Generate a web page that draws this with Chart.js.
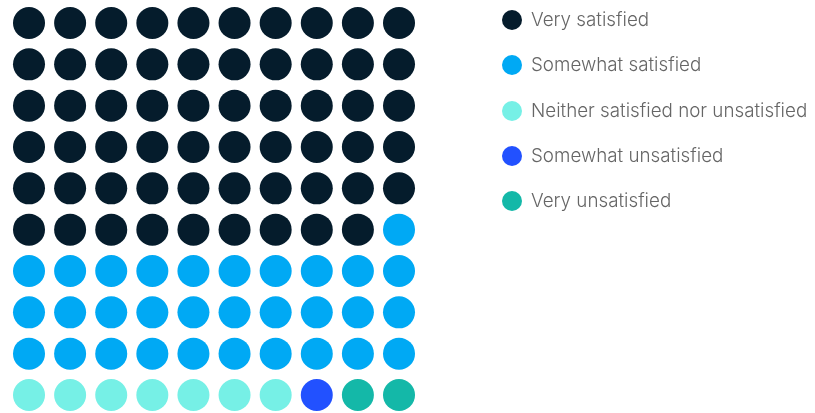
<!DOCTYPE html>
<html>
<head>
<meta charset="utf-8">
<script src="https://cdn.jsdelivr.net/npm/chart.js@4"></script>
<style>
  html, body { margin: 0; padding: 0; background: #fff; }
  #wrap { position: relative; width: 815px; height: 413px; }
  #legend { position: absolute; left: 502px; top: 0; margin: 0; padding: 0; list-style: none;
    font-family: Inter, Roboto, sans-serif; font-size: 18.8px; font-weight: 300; color: #666; }
  #legend li { position: absolute; left: 0; white-space: nowrap; height: 20px; line-height: 20px; }
  #legend span { display: inline-block; width: 20px; height: 20px; border-radius: 50%; vertical-align: top; margin-right: 9px; }
</style>
</head>
<body>
<div id="wrap">
  <canvas id="myChart" width="815" height="413"></canvas>
  <ul id="legend"></ul>
</div>
<script>
const categories = ['Very satisfied', 'Somewhat satisfied', 'Neither satisfied nor unsatisfied', 'Somewhat unsatisfied', 'Very unsatisfied'];
const counts = [59, 31, 7, 1, 2];
const colors = ['#051c2c', '#00a9f4', '#76f0e6', '#2251ff', '#14b8a8'];
const cols = 10;

// fill the 10x10 grid row by row
let cell = 0;
const datasets = categories.map((label, i) => {
  const data = [];
  for (let k = 0; k < counts[i]; k++) {
    data.push({ x: cell % cols, y: Math.floor(cell / cols) });
    cell++;
  }
  return {
    label,
    data,
    backgroundColor: colors[i],
    borderWidth: 0,
    pointRadius: 16,
    pointHoverRadius: 16,
    clip: false
  };
});

new Chart(document.getElementById('myChart'), {
  type: 'scatter',
  data: { datasets },
  options: {
    responsive: false,
    animation: false,
    layout: { padding: { left: 29, right: 416, top: 23, bottom: 18 } },
    scales: {
      x: { display: false, min: 0, max: 9 },
      y: { display: false, min: 0, max: 9, reverse: true }
    },
    plugins: { legend: { display: false }, tooltip: { enabled: false } }
  }
});

const legend = document.getElementById('legend');
categories.forEach((label, i) => {
  const li = document.createElement('li');
  li.style.top = (10 + i * 45.3) + 'px';
  li.innerHTML = `<span style="background:${colors[i]}"></span>${label}`;
  legend.appendChild(li);
});
</script>
</body>
</html>
